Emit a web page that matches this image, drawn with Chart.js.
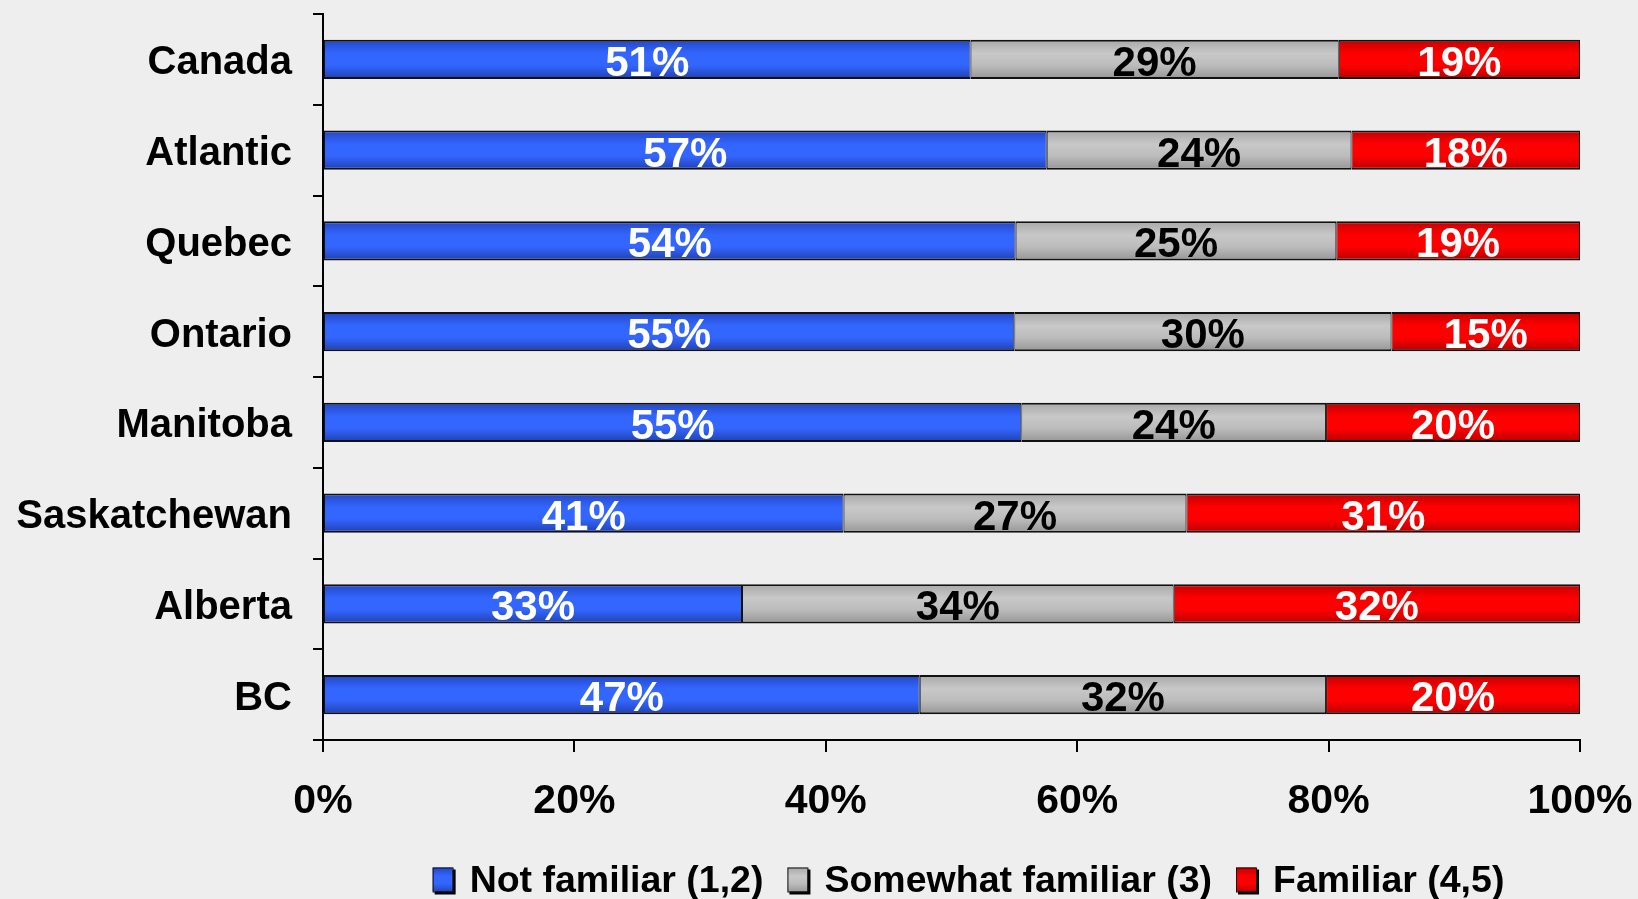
<!DOCTYPE html>
<html>
<head>
<meta charset="utf-8">
<script src="https://cdn.jsdelivr.net/npm/chart.js@4.4.0/dist/chart.umd.min.js"></script>
<style>
    html, body { margin: 0; padding: 0; background: #eeeeee; }
    #wrap { width: 1638px; height: 899px; position: relative; }
</style>
</head>
<body>
<div id="wrap"><canvas id="familiarChart"></canvas></div>
<script>
const regions = ['Canada', 'Atlantic', 'Quebec', 'Ontario', 'Manitoba', 'Saskatchewan', 'Alberta', 'BC'];
const notFamiliar = [51, 57, 54, 55, 55, 41, 33, 47];
const somewhatFamiliar = [29, 24, 25, 30, 24, 27, 34, 32];
const familiar = [19, 18, 19, 15, 20, 31, 32, 20];
const xTicks = [0, 20, 40, 60, 80, 100];

const seriesNames = ['Not familiar (1,2)', 'Somewhat familiar (3)', 'Familiar (4,5)'];
const rawSeries = [notFamiliar, somewhatFamiliar, familiar];

// 100% stacked: each row is scaled to its own total
const totals = regions.map((r, i) => notFamiliar[i] + somewhatFamiliar[i] + familiar[i]);
const toShare = arr => arr.map((v, i) => v / totals[i] * 100);

const FONT = "'Liberation Sans', Arial, sans-serif";
const BAR_PCT = 0.43;

const palettes = [
    { solid: '#3366ff', stops: ['#2447c4', '#3366ff', '#3366ff', '#2140b0'] },
    { solid: '#c0c0c0', stops: ['#a8a8a8', '#c8c8c8', '#bcbcbc', '#969696'] },
    { solid: '#ff0000', stops: ['#c40000', '#ff0000', '#ff0000', '#b80000'] },
];
const labelColors = ['#ffffff', '#000000', '#ffffff'];

function fillGradient(c, series, top, bottom) {
    const g = c.createLinearGradient(0, top, 0, bottom);
    const s = palettes[series].stops;
    g.addColorStop(0, s[0]);
    g.addColorStop(0.35, s[1]);
    g.addColorStop(0.65, s[2]);
    g.addColorStop(1, s[3]);
    return g;
}

function barGradient(series) {
    return function (context) {
        const chart = context.chart;
        const area = chart.chartArea;
        if (!area || !chart.scales.y) return palettes[series].solid;
        const yc = chart.scales.y.getPixelForValue(context.dataIndex);
        const h = (area.bottom - area.top) / regions.length * BAR_PCT;
        return fillGradient(chart.ctx, series, yc - h / 2, yc + h / 2);
    };
}

const valueLabels = {
    id: 'valueLabels',
    afterDatasetsDraw(chart) {
        const ctx = chart.ctx;
        ctx.save();
        ctx.font = 'bold 42px ' + FONT;
        ctx.textAlign = 'center';
        ctx.textBaseline = 'middle';
        rawSeries.forEach((arr, i) => {
            ctx.fillStyle = labelColors[i];
            chart.getDatasetMeta(i).data.forEach((bar, j) => {
                ctx.fillText(arr[j] + '%', (bar.x + bar.base) / 2, bar.y + 5);
            });
        });
        ctx.restore();
    }
};

// legend drawn under the axis: shadowed boxes + bold text
const bottomLegend = {
    id: 'bottomLegend',
    afterDraw(chart) {
        const ctx = chart.ctx;
        const area = chart.chartArea;
        const boxW = 21, boxH = 25, textGap = 16, itemGap = 24;
        ctx.save();
        ctx.font = 'bold 37.5px ' + FONT;
        const widths = seriesNames.map(n => boxW + textGap + ctx.measureText(n).width);
        const total = widths.reduce((a, b) => a + b, 0) + itemGap * (widths.length - 1);
        let x = (area.left + area.right) / 2 + 17 - total / 2;
        const yc = area.bottom + 140;
        ctx.textBaseline = 'middle';
        ctx.textAlign = 'left';
        seriesNames.forEach((name, i) => {
            const top = yc - boxH / 2;
            ctx.fillStyle = '#000';
            ctx.fillRect(x + 2, top + 2, boxW, boxH);
            ctx.fillStyle = fillGradient(ctx, i, top, top + boxH);
            ctx.fillRect(x, top, boxW - 1, boxH - 1);
            ctx.strokeStyle = '#111';
            ctx.lineWidth = 1;
            ctx.strokeRect(x + 0.5, top + 0.5, boxW - 1, boxH - 1);
            ctx.fillStyle = '#000';
            ctx.fillText(name, x + boxW + textGap, yc + 2);
            x += widths[i] + itemGap;
        });
        ctx.restore();
    }
};

const ctx = document.getElementById('familiarChart').getContext('2d');

let chart = new Chart(ctx, {
    type: 'bar',
    data: {
        labels: regions,
        datasets: rawSeries.map((arr, i) => ({
            label: seriesNames[i],
            data: toShare(arr),
            backgroundColor: barGradient(i),
            borderColor: '#111111',
            borderWidth: { top: 2, bottom: 2, left: 1, right: 1 },
            borderSkipped: false,
            barPercentage: 1,
            categoryPercentage: BAR_PCT,
        })),
    },
    options: {
        indexAxis: 'y',
        responsive: true,
        maintainAspectRatio: false,
        animation: false,
        layout: {
            padding: { left: 0, right: 58, top: 14, bottom: 59 }
        },
        plugins: {
            legend: { display: false },
            tooltip: { enabled: false }
        },
        scales: {
            x: {
                stacked: true,
                min: 0,
                max: 100,
                afterBuildTicks: function (scale) {
                    scale.ticks = xTicks.map(v => ({ value: v }));
                },
                afterFit: function (scale) {
                    scale.height = 100;
                    scale.paddingLeft = 0;
                    scale.paddingRight = 0;
                },
                border: { display: true, color: '#000', width: 2 },
                grid: {
                    drawOnChartArea: false,
                    drawTicks: true,
                    tickLength: 12,
                    color: '#000',
                    lineWidth: 2,
                },
                ticks: {
                    color: '#000',
                    padding: 25,
                    maxRotation: 0,
                    font: { family: FONT, size: 41, weight: 'bold' },
                    callback: v => v + '%',
                }
            },
            y: {
                stacked: true,
                afterFit: function (scale) {
                    scale.width = 323;
                    scale.paddingTop = 0;
                    scale.paddingBottom = 0;
                },
                border: { display: true, color: '#000', width: 2 },
                grid: {
                    offset: true,
                    drawOnChartArea: false,
                    drawTicks: true,
                    tickLength: 10,
                    color: '#000',
                    lineWidth: 2,
                },
                ticks: {
                    color: '#000',
                    padding: 21,
                    labelOffset: 4,
                    font: { family: FONT, size: 40, weight: 'bold' },
                }
            },
        }
    },
    plugins: [valueLabels, bottomLegend],
});
</script>
</body>
</html>
